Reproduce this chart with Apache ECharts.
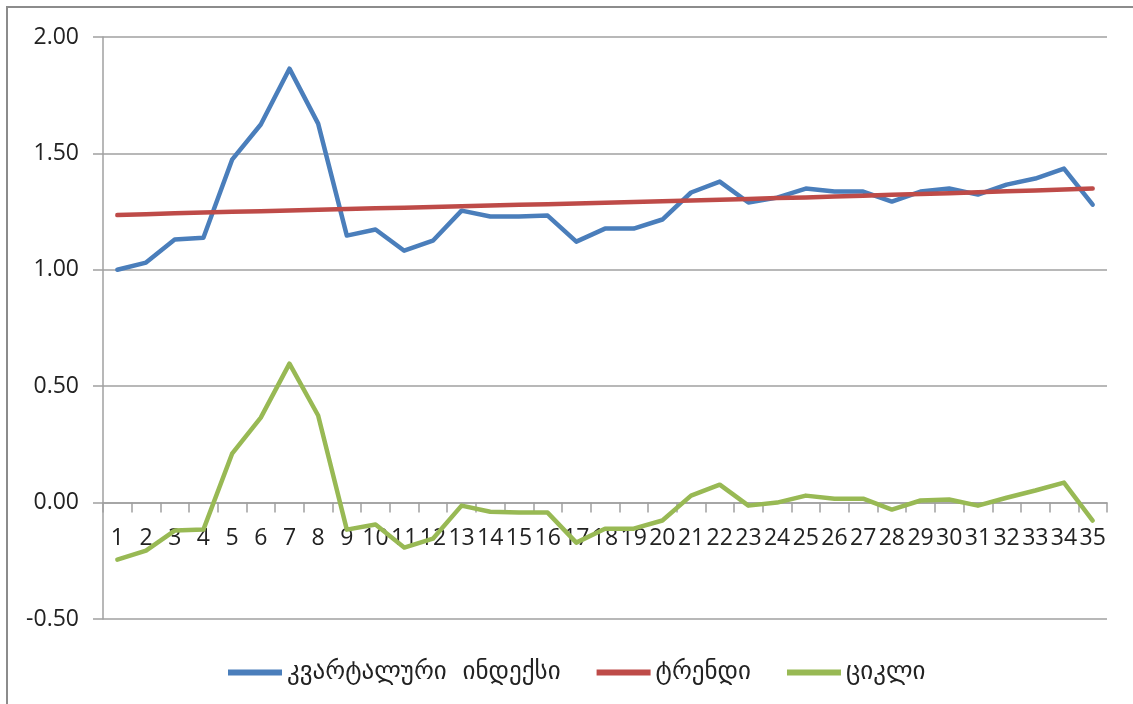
<!DOCTYPE html>
<html>
<head>
<meta charset="utf-8">
<style>
  html, body { margin: 0; padding: 0; background: #ffffff; }
  #chart { width: 1133px; height: 704px; }
</style>
<script src="https://cdn.jsdelivr.net/npm/echarts@6/dist/echarts.min.js"></script>
</head>
<body>
<div id="chart"></div>
<script>
// Quarter numbers on the category axis
const quarters = ['1','2','3','4','5','6','7','8','9','10','11','12','13','14','15','16','17','18',
  '19','20','21','22','23','24','25','26','27','28','29','30','31','32','33','34','35'];

// Quarterly index
const quarterlyIndex = [1.000, 1.031, 1.130, 1.138, 1.473, 1.624, 1.864, 1.628, 1.147, 1.173,
  1.082, 1.125, 1.254, 1.229, 1.229, 1.233, 1.121, 1.177, 1.177, 1.216,
  1.332, 1.379, 1.289, 1.310, 1.349, 1.336, 1.336, 1.293, 1.336, 1.349,
  1.323, 1.366, 1.392, 1.435, 1.280];

// Trend component
const trend = [1.235, 1.239, 1.243, 1.246, 1.249, 1.252, 1.255, 1.258, 1.261, 1.264,
  1.267, 1.270, 1.273, 1.276, 1.279, 1.282, 1.285, 1.288, 1.291, 1.294,
  1.298, 1.301, 1.304, 1.308, 1.311, 1.315, 1.318, 1.322, 1.326, 1.329,
  1.333, 1.337, 1.341, 1.345, 1.349];

// Cyclical component
const cycle = [-0.245, -0.206, -0.120, -0.116, 0.210, 0.365, 0.597, 0.374, -0.116, -0.094,
  -0.193, -0.155, -0.013, -0.039, -0.043, -0.043, -0.172, -0.112, -0.112, -0.077,
  0.030, 0.077, -0.013, 0.000, 0.030, 0.017, 0.017, -0.030, 0.009, 0.013,
  -0.013, 0.021, 0.052, 0.086, -0.077];

// Value axis range
const yMin = -0.5, yMax = 2, yStep = 0.5;

const seriesNames = ['კვარტალური  ინდექსი', 'ტრენდი', 'ციკლი'];
const seriesColors = ['#4a7ebb', '#be4b48', '#98b954'];

const gridTop = 37, gridBottom = 85, chartH = 704;
const plotH = chartH - gridTop - gridBottom;
// Lift the category axis from the bottom edge up to the zero line
const zeroLift = -plotH * (0 - yMin) / (yMax - yMin);

const chart = echarts.init(document.getElementById('chart'), null, { renderer: 'canvas' });

const lineSeries = (name, data, color) => ({
  name: name,
  type: 'line',
  data: data,
  symbol: 'none',
  smooth: false,
  lineStyle: { color: color, width: 4.5, cap: 'round', join: 'round' },
  itemStyle: { color: color },
  emphasis: { disabled: true }
});

chart.setOption({
  animation: false,
  textStyle: { fontFamily: 'Open Sans' },
  graphic: [{
    type: 'rect',
    shape: { x: 7, y: 7, width: 1150, height: 720 },
    style: { fill: 'none', stroke: '#8c8c8c', lineWidth: 2 },
    silent: true
  }],
  grid: { left: 103, right: 26, top: gridTop, bottom: gridBottom, containLabel: false },
  legend: {
    top: 655,
    left: 223,
    icon: 'rect',
    itemWidth: 54,
    itemHeight: 6,
    itemGap: 36,
    textStyle: { fontFamily: 'DejaVu Sans', fontSize: 25, color: '#222', padding: [0, 0, 0, 0] },
    data: seriesNames
  },
  xAxis: {
    type: 'category',
    data: quarters,
    boundaryGap: true,
    offset: zeroLift,
    axisLine: { onZero: false, lineStyle: { color: '#a0a0a0', width: 1.5 } },
    axisTick: { show: true, length: 10, lineStyle: { color: '#a0a0a0', width: 1.5 } },
    axisLabel: { interval: 0, margin: 24, fontSize: 23, color: '#222', fontFamily: 'Open Sans' },
    splitLine: { show: false }
  },
  yAxis: {
    type: 'value',
    min: yMin,
    max: yMax,
    interval: yStep,
    axisLine: { show: true, lineStyle: { color: '#a0a0a0', width: 1.5 } },
    axisTick: { show: true, length: 10, lineStyle: { color: '#a0a0a0', width: 1.5 } },
    axisLabel: {
      margin: 24, fontSize: 23, color: '#222', fontFamily: 'Open Sans',
      formatter: v => v.toFixed(2)
    },
    splitLine: { show: true, lineStyle: { color: '#a0a0a0', width: 1.5 } }
  },
  series: [
    lineSeries(seriesNames[0], quarterlyIndex, seriesColors[0]),
    lineSeries(seriesNames[1], trend, seriesColors[1]),
    lineSeries(seriesNames[2], cycle, seriesColors[2])
  ]
});
</script>
</body>
</html>
